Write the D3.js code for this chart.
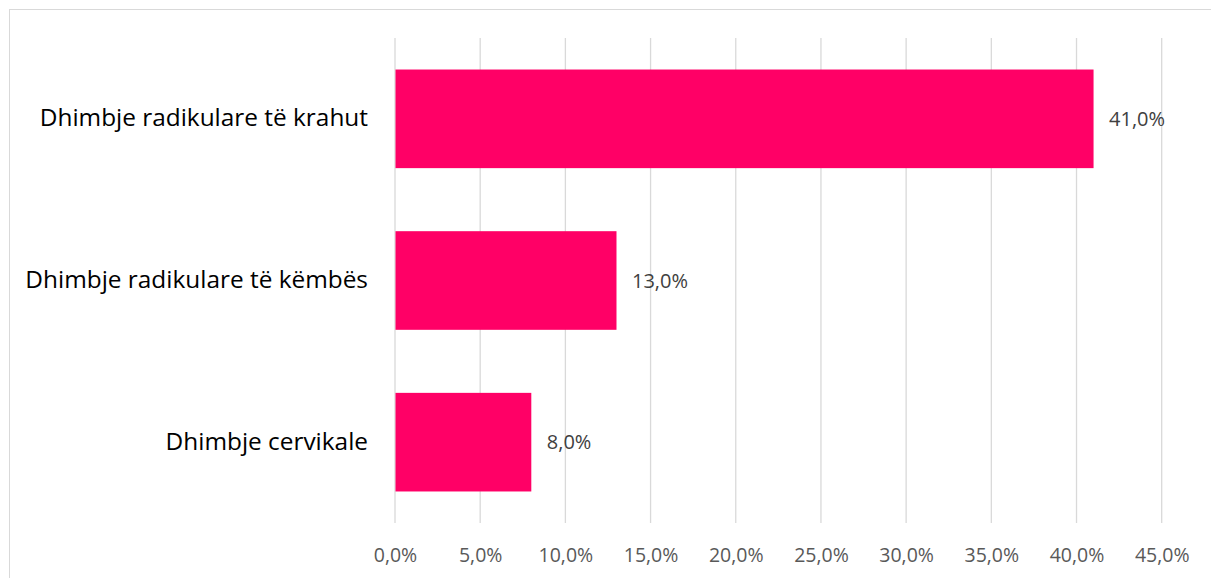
<!DOCTYPE html>
<html>
<head>
<meta charset="utf-8">
<script src="https://cdn.jsdelivr.net/npm/d3@7"></script>
<style>
  html, body { margin: 0; padding: 0; background: #fff; }
  svg { display: block; }
</style>
</head>
<body>
<svg id="chart" width="1211" height="578"></svg>
<script>
// Pain types and their shares (percent)
const categories = ["Dhimbje radikulare të krahut", "Dhimbje radikulare të këmbës", "Dhimbje cervikale"];
const values = [41.0, 13.0, 8.0];
const xTicks = [0, 5, 10, 15, 20, 25, 30, 35, 40, 45];

const fmt = v => v.toFixed(1).replace(".", ",") + "%";
const FONT = "'Open Sans', 'Noto Sans', sans-serif";

const svg = d3.select("#chart");
const W = 1211, H = 578;
const margin = { left: 395, right: W - 1161.7, top: 38, bottom: H - 523 };

// Outer frame
svg.append("rect")
  .attr("x", 9.5).attr("y", 9.5)
  .attr("width", W).attr("height", H)
  .attr("fill", "none").attr("stroke", "#d9d9d9").attr("stroke-width", 1);

const x = d3.scaleLinear().domain([0, 45]).range([margin.left, W - margin.right]);
const y = d3.scaleBand().domain(categories).range([margin.top, H - margin.bottom])
  .paddingInner(0.39).paddingOuter(0.195);

// Vertical gridlines
svg.append("g")
  .selectAll("line").data(xTicks).join("line")
  .attr("x1", d => x(d)).attr("x2", d => x(d))
  .attr("y1", margin.top).attr("y2", H - margin.bottom)
  .attr("stroke", "#d9d9d9").attr("stroke-width", 1.3);

// Bars
svg.append("g")
  .selectAll("rect").data(categories).join("rect")
  .attr("x", x(0) + 0.5)
  .attr("y", d => y(d))
  .attr("width", (d, i) => x(values[i]) - x(0) - 0.5)
  .attr("height", y.bandwidth())
  .attr("fill", "#ff0066");

// Value labels
svg.append("g")
  .selectAll("text").data(categories).join("text")
  .attr("x", (d, i) => x(values[i]) + 15.5)
  .attr("y", d => y(d) + y.bandwidth() / 2)
  .attr("dy", "0.35em")
  .attr("font-family", FONT)
  .attr("font-size", 20)
  .attr("fill", "#404040")
  .text((d, i) => fmt(values[i]));

// Category labels
svg.append("g")
  .selectAll("text").data(categories).join("text")
  .attr("x", 368)
  .attr("y", d => y(d) + y.bandwidth() / 2 - 1)
  .attr("dy", "0.35em")
  .attr("text-anchor", "end")
  .attr("font-family", FONT)
  .attr("font-size", 24.4)
  .attr("fill", "#000")
  .text(d => d);

// X axis tick labels
const xAxis = d3.axisBottom(x).tickValues(xTicks).tickSize(0).tickPadding(0).tickFormat(fmt);
const gx = svg.append("g").attr("transform", `translate(0, ${H - margin.bottom + 32})`).call(xAxis);
gx.select(".domain").remove();
gx.selectAll("text")
  .attr("font-family", FONT)
  .attr("font-size", 19.5)
  .attr("fill", "#595959")
  .attr("dy", "0.35em")
  .attr("y", 0);
</script>
</body>
</html>
